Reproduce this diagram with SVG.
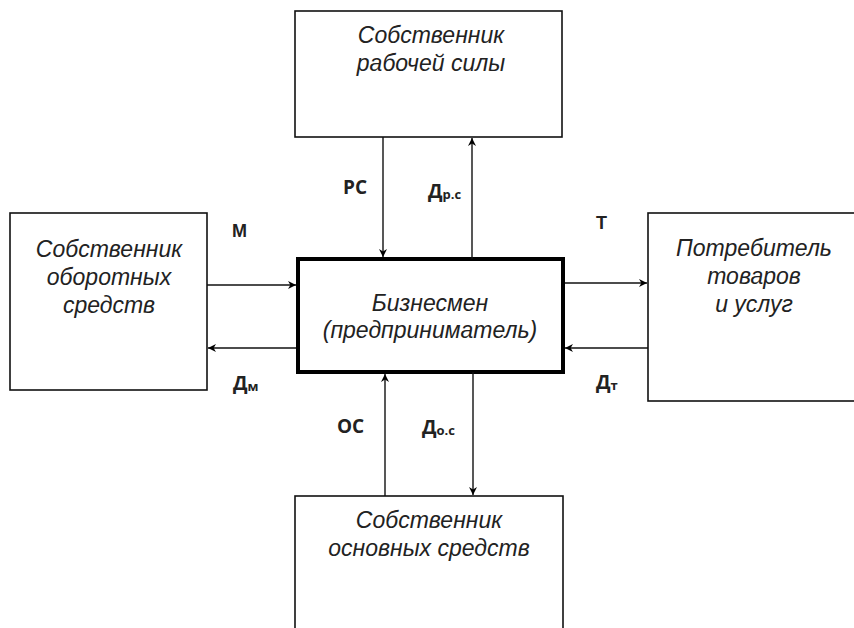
<svg xmlns="http://www.w3.org/2000/svg" width="854" height="628" viewBox="0 0 854 628">
<style>
.box{fill:#fff;stroke:#111;stroke-width:1.6}
.main{fill:#fff;stroke:#000;stroke-width:4}
.t{font-family:"Liberation Sans",Arial,sans-serif;font-style:italic;font-size:23px;fill:#222;text-anchor:middle}
.lb{font-family:"Open Sans","Liberation Sans",sans-serif;font-weight:bold;font-size:19px;fill:#222}
.lb2{font-family:"Liberation Sans",Arial,sans-serif;font-weight:bold;font-size:18px;fill:#222}
.sub{font-size:13px}
.c{stroke:#111;stroke-width:1.4;fill:none;marker-end:url(#ah)}
</style>
<defs>
<marker id="ah" viewBox="0 0 10 10" refX="10" refY="5" markerWidth="8" markerHeight="8" markerUnits="userSpaceOnUse" orient="auto">
<path d="M0,0 L10,5 L0,10 L3,5 Z" fill="#000"/>
</marker>
</defs>
<rect width="854" height="628" fill="#fff"/>
<g id="top">
<rect class="box" x="295" y="11" width="267" height="126"/>
<text class="t" x="431" y="43">Собственник</text>
<text class="t" x="431" y="71">рабочей силы</text>
</g>
<g id="left">
<rect class="box" x="10" y="213" width="197" height="177"/>
<text class="t" x="109" y="257">Собственник</text>
<text class="t" x="109" y="285">оборотных</text>
<text class="t" x="109" y="313">средств</text>
</g>
<g id="right">
<rect class="box" x="648" y="213" width="220" height="188"/>
<text class="t" x="754" y="256">Потребитель</text>
<text class="t" x="754" y="284">товаров</text>
<text class="t" x="754" y="312">и услуг</text>
</g>
<g id="bottom">
<rect class="box" x="295" y="496" width="268" height="150"/>
<text class="t" x="429" y="528">Собственник</text>
<text class="t" x="429" y="556">основных средств</text>
</g>
<g id="main">
<rect class="main" x="298" y="259" width="265" height="113"/>
<text class="t" x="430" y="311">Бизнесмен</text>
<text class="t" x="430" y="338">(предприниматель)</text>
</g>
<g id="connectors">
<line class="c" x1="383" y1="137" x2="383" y2="257"/>
<line class="c" x1="472" y1="259" x2="472" y2="138"/>
<line class="c" x1="207" y1="285" x2="296" y2="285"/>
<line class="c" x1="296" y1="348" x2="208" y2="348"/>
<line class="c" x1="565" y1="283" x2="647" y2="283"/>
<line class="c" x1="648" y1="348" x2="565" y2="348"/>
<line class="c" x1="385" y1="496" x2="385" y2="374"/>
<line class="c" x1="473" y1="372" x2="473" y2="495"/>
</g>
<g id="labels">
<text class="lb" x="343" y="194">PC</text>
<text class="lb" x="428" y="198">Д<tspan class="sub" dy="1">р.с</tspan></text>
<text class="lb2" x="232" y="237">M</text>
<text class="lb2" x="596" y="229">T</text>
<text class="lb" x="233" y="390">Д<tspan class="sub" dy="1">м</tspan></text>
<text class="lb" x="596" y="389">Д<tspan class="sub" dy="1">т</tspan></text>
<text class="lb" x="337" y="433">OC</text>
<text class="lb" x="422" y="434">Д<tspan class="sub" dy="1">о.с</tspan></text>
</g>
</svg>
